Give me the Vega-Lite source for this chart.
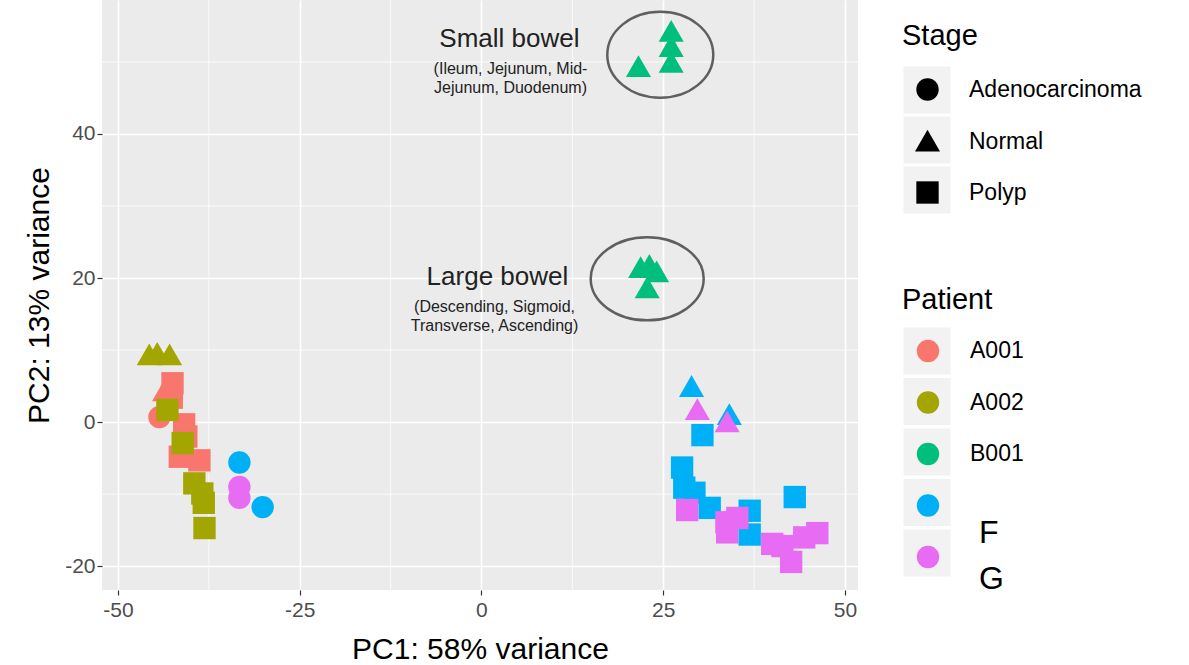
{
  "$schema": "https://vega.github.io/schema/vega-lite/v6.json",
  "width": 756,
  "height": 590,
  "autosize": "none",
  "padding": {"left": 102, "top": 0, "right": 331, "bottom": 75},
  "background": "white",
  "config": {
    "view": {"fill": "#EBEBEB", "stroke": null},
    "font": "Liberation Sans",
    "axis": {
      "domain": false,
      "gridColor": "white",
      "gridWidth": 1.6,
      "tickColor": "#333333",
      "tickSize": 5,
      "tickWidth": 1.2,
      "labelColor": "#4D4D4D",
      "labelFontSize": 21,
      "labelFont": "Liberation Sans",
      "titleFont": "Liberation Sans",
      "titleFontSize": 30,
      "titleFontWeight": "normal",
      "titleColor": "black"
    },
    "legend": {
      "titleFont": "Liberation Sans",
      "labelFont": "Liberation Sans",
      "titleFontWeight": "normal",
      "titleColor": "black",
      "labelColor": "black",
      "labelLimit": 400,
      "padding": 0
    }
  },
  "layer": [
    {
      "data": {"values": [{"PC1": -37.5}, {"PC1": -12.5}, {"PC1": 12.5}, {"PC1": 37.5}]},
      "mark": {"type": "rule", "color": "white", "strokeWidth": 0.8},
      "encoding": {
        "x": {"field": "PC1", "type": "quantitative", "scale": {"domain": [-52.2, 51.8], "nice": false, "zero": false}}
      }
    },
    {
      "data": {"values": [{"PC2": -10}, {"PC2": 10}, {"PC2": 30}, {"PC2": 50}]},
      "mark": {"type": "rule", "color": "white", "strokeWidth": 0.8},
      "encoding": {
        "y": {"field": "PC2", "type": "quantitative", "scale": {"domain": [-23.3, 58.6], "nice": false, "zero": false}}
      }
    },
    {
      "data": {"values": [{"StageKey": "k1"}, {"StageKey": "k2"}, {"StageKey": "k3"}]},
      "mark": {"type": "point", "filled": true, "color": "#F2F2F2", "shape": "square", "opacity": 1},
      "encoding": {
        "x": {"field": "PC1", "type": "quantitative"},
        "y": {"field": "PC2", "type": "quantitative"},
        "size": {
          "field": "StageKey", "type": "nominal",
          "scale": {"type": "ordinal", "domain": ["k1", "k2", "k3"], "range": [2209, 2209, 2209]},
          "legend": {"orient": "none", "legendX": 801.5, "legendY": 66.5, "title": null, "labelExpr": "''", "symbolType": "square", "symbolFillColor": "#F2F2F2", "symbolStrokeWidth": 0, "rowPadding": 3, "zindex": 1}
        }
      }
    },
    {
      "data": {"values": [{"PatientKey": "p1"}, {"PatientKey": "p2"}, {"PatientKey": "p3"}, {"PatientKey": "p4"}, {"PatientKey": "p5"}]},
      "mark": {"type": "point", "filled": true, "color": "#F2F2F2", "shape": "square"},
      "encoding": {
        "x": {"field": "PC1", "type": "quantitative"},
        "y": {"field": "PC2", "type": "quantitative"},
        "opacity": {
          "field": "PatientKey", "type": "nominal",
          "scale": {"type": "ordinal", "domain": ["p1", "p2", "p3", "p4", "p5"], "range": [1, 1, 1, 1, 1]},
          "legend": {"orient": "none", "legendX": 801.5, "legendY": 327.5, "title": null, "labelExpr": "''", "symbolType": "square", "symbolSize": 2209, "symbolFillColor": "#F2F2F2", "symbolStrokeWidth": 0, "rowPadding": 3.5, "zindex": 1}
        }
      }
    },
    {
      "data": {"values": [{"PatientLabel": "L1"}, {"PatientLabel": "L2"}, {"PatientLabel": "L3"}, {"PatientLabel": "F"}, {"PatientLabel": "G"}]},
      "mark": {"type": "point", "filled": true, "color": "white", "shape": "circle"},
      "encoding": {
        "x": {"field": "PC1", "type": "quantitative"},
        "y": {"field": "PC2", "type": "quantitative"},
        "strokeWidth": {
          "field": "PatientLabel", "type": "nominal",
          "scale": {"type": "ordinal", "domain": ["L1", "L2", "L3", "F", "G"], "range": [0, 0, 0, 0, 0]},
          "legend": {"orient": "none", "legendX": 838, "legendY": 424.5, "title": null, "labelExpr": "datum.label == 'F' || datum.label == 'G' ? datum.label : ''", "symbolSize": 1, "symbolFillColor": "white", "symbolStrokeColor": "white", "labelFontSize": 32, "labelColor": "black", "labelOffset": 7, "rowPadding": 14, "zindex": 3}
        }
      }
    },
    {
      "data": {"values": [{"PC1": 24.6, "PC2": 51.0}]},
      "mark": {"type": "point", "shape": "M -1 0 A 1 0.811 0 1 1 1 0 A 1 0.811 0 1 1 -1 0 Z", "size": 11236, "filled": false, "stroke": "#5F5F5F", "strokeWidth": 2.5, "opacity": 1},
      "encoding": {
        "x": {"field": "PC1", "type": "quantitative"},
        "y": {"field": "PC2", "type": "quantitative"}
      }
    },
    {
      "data": {"values": [{"PC1": 22.8, "PC2": 19.9}]},
      "mark": {"type": "point", "shape": "M -1 0 A 1 0.735 0 1 1 1 0 A 1 0.735 0 1 1 -1 0 Z", "size": 12769, "filled": false, "stroke": "#5F5F5F", "strokeWidth": 2.5, "opacity": 1},
      "encoding": {
        "x": {"field": "PC1", "type": "quantitative"},
        "y": {"field": "PC2", "type": "quantitative"}
      }
    },
    {
      "data": {"values": [{"PC1": 3.85, "PC2": 53.2, "label": "Small bowel"}, {"PC1": 2.2, "PC2": 20.1, "label": "Large bowel"}]},
      "mark": {"type": "text", "fontSize": 26, "color": "#222222", "align": "center", "baseline": "middle", "font": "Liberation Sans"},
      "encoding": {
        "x": {"field": "PC1", "type": "quantitative"},
        "y": {"field": "PC2", "type": "quantitative"},
        "text": {"field": "label"}
      }
    },
    {
      "data": {"values": [{"PC1": 4.0, "PC2": 49.0, "label": "(Ileum, Jejunum, Mid-\nJejunum, Duodenum)"}, {"PC1": 1.8, "PC2": 16.0, "label": "(Descending, Sigmoid,\nTransverse, Ascending)"}]},
      "mark": {"type": "text", "fontSize": 16, "lineHeight": 19, "lineBreak": "\n", "color": "#222222", "align": "center", "baseline": "middle", "font": "Liberation Sans"},
      "encoding": {
        "x": {"field": "PC1", "type": "quantitative"},
        "y": {"field": "PC2", "type": "quantitative"},
        "text": {"field": "label"}
      }
    },
    {
      "data": {"values": [
        {"Patient": "A001", "Stage": "Normal", "PC1": -43.6, "PC2": 4.3},
        {"Patient": "A001", "Stage": "Adenocarcinoma", "PC1": -44.3, "PC2": 0.7},
        {"Patient": "A001", "Stage": "Polyp", "PC1": -42.5, "PC2": 5.4},
        {"Patient": "A001", "Stage": "Polyp", "PC1": -42.6, "PC2": 3.4},
        {"Patient": "A001", "Stage": "Polyp", "PC1": -40.9, "PC2": -0.3},
        {"Patient": "A001", "Stage": "Polyp", "PC1": -40.6, "PC2": -2.0},
        {"Patient": "A001", "Stage": "Polyp", "PC1": -41.5, "PC2": -4.8},
        {"Patient": "A001", "Stage": "Polyp", "PC1": -38.8, "PC2": -5.3},
        {"Patient": "A002", "Stage": "Normal", "PC1": -45.7, "PC2": 9.3},
        {"Patient": "A002", "Stage": "Normal", "PC1": -44.6, "PC2": 9.5},
        {"Patient": "A002", "Stage": "Normal", "PC1": -42.9, "PC2": 9.3},
        {"Patient": "A002", "Stage": "Polyp", "PC1": -43.2, "PC2": 1.7},
        {"Patient": "A002", "Stage": "Polyp", "PC1": -41.1, "PC2": -2.9},
        {"Patient": "A002", "Stage": "Polyp", "PC1": -39.5, "PC2": -8.5},
        {"Patient": "A002", "Stage": "Polyp", "PC1": -38.4, "PC2": -9.9},
        {"Patient": "A002", "Stage": "Polyp", "PC1": -38.2, "PC2": -11.2},
        {"Patient": "A002", "Stage": "Polyp", "PC1": -38.1, "PC2": -14.7},
        {"Patient": "B001", "Stage": "Normal", "PC1": 21.6, "PC2": 49.3},
        {"Patient": "B001", "Stage": "Normal", "PC1": 26.1, "PC2": 54.2},
        {"Patient": "B001", "Stage": "Normal", "PC1": 26.1, "PC2": 52.1},
        {"Patient": "B001", "Stage": "Normal", "PC1": 26.1, "PC2": 49.9},
        {"Patient": "B001", "Stage": "Normal", "PC1": 21.9, "PC2": 21.4},
        {"Patient": "B001", "Stage": "Normal", "PC1": 23.1, "PC2": 21.7},
        {"Patient": "B001", "Stage": "Normal", "PC1": 24.1, "PC2": 20.8},
        {"Patient": "B001", "Stage": "Normal", "PC1": 22.8, "PC2": 18.6},
        {"Patient": "F", "Stage": "Adenocarcinoma", "PC1": -33.3, "PC2": -5.6},
        {"Patient": "F", "Stage": "Adenocarcinoma", "PC1": -30.1, "PC2": -11.8},
        {"Patient": "F", "Stage": "Normal", "PC1": 28.9, "PC2": 4.9},
        {"Patient": "F", "Stage": "Normal", "PC1": 34.1, "PC2": 1.0},
        {"Patient": "F", "Stage": "Polyp", "PC1": 30.4, "PC2": -1.8},
        {"Patient": "F", "Stage": "Polyp", "PC1": 27.6, "PC2": -6.3},
        {"Patient": "F", "Stage": "Polyp", "PC1": 27.9, "PC2": -9.1},
        {"Patient": "F", "Stage": "Polyp", "PC1": 29.3, "PC2": -9.8},
        {"Patient": "F", "Stage": "Polyp", "PC1": 31.4, "PC2": -11.9},
        {"Patient": "F", "Stage": "Polyp", "PC1": 36.9, "PC2": -12.3},
        {"Patient": "F", "Stage": "Polyp", "PC1": 36.9, "PC2": -15.6},
        {"Patient": "F", "Stage": "Polyp", "PC1": 43.1, "PC2": -10.4},
        {"Patient": "G", "Stage": "Adenocarcinoma", "PC1": -33.3, "PC2": -9.0},
        {"Patient": "G", "Stage": "Adenocarcinoma", "PC1": -33.3, "PC2": -10.5},
        {"Patient": "G", "Stage": "Normal", "PC1": 29.7, "PC2": 1.7},
        {"Patient": "G", "Stage": "Normal", "PC1": 33.8, "PC2": 0.0},
        {"Patient": "G", "Stage": "Polyp", "PC1": 28.3, "PC2": -12.2},
        {"Patient": "G", "Stage": "Polyp", "PC1": 33.7, "PC2": -13.9},
        {"Patient": "G", "Stage": "Polyp", "PC1": 35.2, "PC2": -13.3},
        {"Patient": "G", "Stage": "Polyp", "PC1": 33.8, "PC2": -15.3},
        {"Patient": "G", "Stage": "Polyp", "PC1": 40.0, "PC2": -16.9},
        {"Patient": "G", "Stage": "Polyp", "PC1": 41.4, "PC2": -17.2},
        {"Patient": "G", "Stage": "Polyp", "PC1": 42.6, "PC2": -19.4},
        {"Patient": "G", "Stage": "Polyp", "PC1": 44.4, "PC2": -16.0},
        {"Patient": "G", "Stage": "Polyp", "PC1": 46.2, "PC2": -15.4}
      ]},
      "mark": {"type": "point", "filled": true, "opacity": 1, "size": 500, "strokeWidth": 0},
      "encoding": {
        "x": {
          "field": "PC1", "type": "quantitative",
          "scale": {"domain": [-52.2, 51.8], "nice": false, "zero": false},
          "axis": {"title": "PC1: 58% variance", "values": [-50, -25, 0, 25, 50], "labelExpr": "'' + datum.value", "grid": true, "labelPadding": 4, "titlePadding": 14}
        },
        "y": {
          "field": "PC2", "type": "quantitative",
          "scale": {"domain": [-23.3, 58.6], "nice": false, "zero": false},
          "axis": {"title": "PC2: 13% variance", "values": [-20, 0, 20, 40], "labelExpr": "'' + datum.value", "grid": true, "labelPadding": 2, "titlePadding": 10}
        },
        "color": {
          "field": "Patient", "type": "nominal",
          "scale": {"domain": ["A001", "A002", "B001", "F", "G"], "range": ["#F8766D", "#A3A500", "#00BF7D", "#00B0F6", "#E76BF3"]},
          "legend": {"orient": "none", "legendX": 800, "legendY": 286, "title": "Patient", "titleFontSize": 29, "titlePadding": 24, "labelFontSize": 23, "labelExpr": "datum.label == 'F' || datum.label == 'G' ? '' : datum.label", "symbolType": "circle", "symbolSize": 500, "symbolOffset": 14, "labelOffset": 30, "rowPadding": 27.5, "zindex": 2}
        },
        "shape": {
          "field": "Stage", "type": "nominal",
          "scale": {"domain": ["Adenocarcinoma", "Normal", "Polyp"], "range": ["circle", "M0,-1.05L1.12,0.9L-1.12,0.9Z", "square"]},
          "legend": {"orient": "none", "legendX": 800, "legendY": 22, "title": "Stage", "titleFontSize": 29, "titlePadding": 27, "labelFontSize": 23, "symbolSize": 500, "symbolFillColor": "black", "symbolStrokeWidth": 0, "symbolOffset": 14, "labelOffset": 30, "rowPadding": 27, "zindex": 2}
        }
      }
    }
  ]
}
